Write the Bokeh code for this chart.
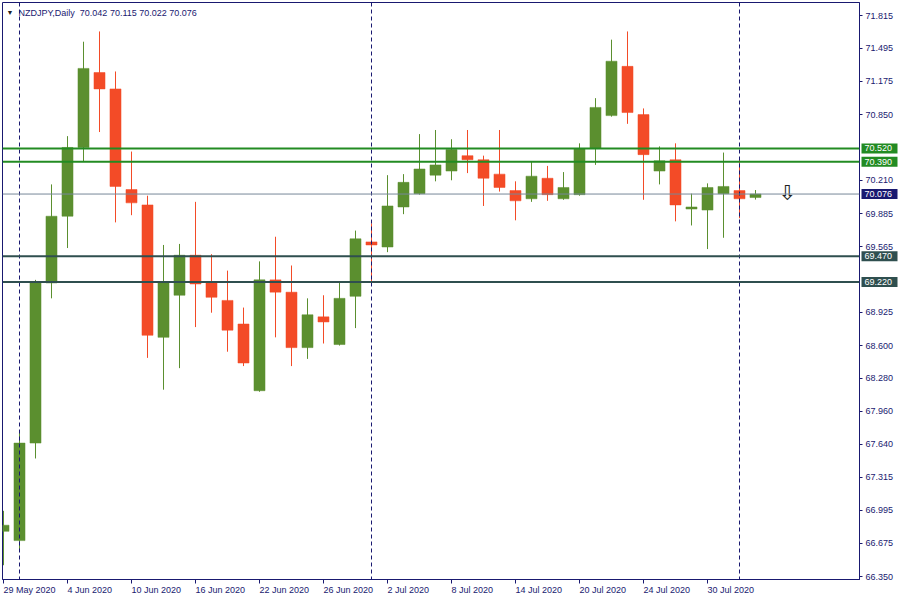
from bokeh.plotting import figure
from bokeh.models import (Range1d, FixedTicker, Span, Label, ColumnDataSource,
                          NumeralTickFormatter)
from bokeh.core.properties import value
from bokeh.embed import file_html
from bokeh.resources import INLINE

# ---------------- data ----------------
dates = ["29 May 2020", "1 Jun 2020", "2 Jun 2020", "3 Jun 2020", "4 Jun 2020", "5 Jun 2020",
         "8 Jun 2020", "9 Jun 2020", "10 Jun 2020", "11 Jun 2020", "12 Jun 2020",
         "15 Jun 2020", "16 Jun 2020", "17 Jun 2020", "18 Jun 2020", "19 Jun 2020",
         "22 Jun 2020", "23 Jun 2020", "24 Jun 2020", "25 Jun 2020", "26 Jun 2020",
         "29 Jun 2020", "30 Jun 2020", "1 Jul 2020", "2 Jul 2020", "3 Jul 2020",
         "6 Jul 2020", "7 Jul 2020", "8 Jul 2020", "9 Jul 2020", "10 Jul 2020",
         "13 Jul 2020", "14 Jul 2020", "15 Jul 2020", "16 Jul 2020", "17 Jul 2020",
         "20 Jul 2020", "21 Jul 2020", "22 Jul 2020", "23 Jul 2020", "24 Jul 2020",
         "27 Jul 2020", "28 Jul 2020", "29 Jul 2020", "30 Jul 2020", "31 Jul 2020",
         "3 Aug 2020", "4 Aug 2020"]
opens = [66.79, 66.70, 67.65, 69.21, 69.86, 70.53, 71.26, 71.10, 70.12, 69.97, 68.68,
         69.09, 69.48, 69.22, 69.04, 68.81, 68.16, 69.24, 69.12, 68.58, 68.88,
         68.61, 69.08, 69.61, 69.56, 69.95, 70.08, 70.26, 70.30, 70.45, 70.41,
         70.27, 70.11, 70.03, 70.23, 70.03, 70.07, 70.52, 70.84, 71.32, 70.85,
         70.30, 70.41, 69.93, 69.92, 70.08, 70.11, 70.042]
highs = [66.99, 67.77, 69.24, 70.17, 70.64, 71.56, 71.66, 71.27, 70.49, 70.06, 69.58,
         69.59, 70.00, 69.49, 69.33, 68.97, 69.42, 69.66, 69.38, 69.06, 69.09,
         69.22, 69.72, 69.79, 70.26, 70.27, 70.66, 70.70, 70.61, 70.70, 70.45,
         70.70, 70.20, 70.39, 70.35, 70.29, 70.57, 71.01, 71.58, 71.66, 70.91,
         70.54, 70.57, 70.08, 70.18, 70.48, 70.41, 70.115]
lows = [66.46, 66.61, 67.50, 69.06, 69.55, 70.39, 70.68, 69.80, 69.87, 68.48, 68.17,
        68.38, 68.78, 68.92, 68.54, 68.40, 68.15, 68.68, 68.40, 68.47, 68.62,
        68.60, 68.77, 69.22, 69.51, 69.88, 70.07, 70.20, 70.21, 70.28, 69.96,
        70.10, 69.82, 70.00, 70.01, 70.02, 70.06, 70.36, 70.83, 70.76, 70.02,
        70.17, 69.81, 69.77, 69.54, 69.65, 69.84, 70.022]
closes = [66.85, 67.65, 69.21, 69.86, 70.53, 71.30, 71.10, 70.15, 69.99, 68.70, 69.21,
          69.48, 69.20, 69.07, 68.75, 68.43, 69.24, 69.12, 68.58, 68.90, 68.83,
          69.06, 69.64, 69.58, 69.96, 70.19, 70.32, 70.36, 70.51, 70.41, 70.23,
          70.14, 70.01, 70.25, 70.07, 70.14, 70.52, 70.92, 71.37, 70.87, 70.46,
          70.40, 69.97, 69.95, 70.14, 70.15, 70.03, 70.076]

price_ticks = [71.815, 71.495, 71.175, 70.850, 70.210, 69.885, 69.565, 68.925, 68.600,
               68.280, 67.960, 67.640, 67.315, 66.995, 66.675, 66.350]
date_tick_every = 4
month_starts = ["1 Jun 2020", "1 Jul 2020", "3 Aug 2020"]

resistance_levels = [70.520, 70.390]
support_levels = [69.470, 69.220]
bid_price = 70.076
title_text = "NZDJPY,Daily\u00a0\u00a070.042 70.115 70.022 70.076"
arrow_bar = [49]
arrow_price = [70.09]

# ---------------- styles / layout ----------------
GREEN = "#5b8f2f"
RED = "#f34b27"
NAVY = "#191970"
RES_COL = "#228b22"
SUP_COL = "#2f4f4f"
BID_COL = "#778899"
FONT = "Liberation Sans"

W, H = 900, 600
BL, BT, BR, BB = 2, 2, 41, 21          # borders around the plot frame (px)
X0, X1 = -0.0625, 53.5                 # visible bar range
Y0, Y1 = 66.321, 71.942                # visible price range
FW, FH = W - BL - BR, H - BT - BB
PPX = FW / (X1 - X0)                   # px per bar
PPY = FH / (Y1 - Y0)                   # px per price unit

idx = list(range(len(dates)))
colors = [GREEN if c >= o else RED for o, c in zip(opens, closes)]
src = ColumnDataSource(dict(
    x=idx, top=[max(o, c) for o, c in zip(opens, closes)],
    bottom=[min(o, c) for o, c in zip(opens, closes)],
    high=highs, low=lows, color=colors))

p = figure(width=W, height=H, output_backend="svg", toolbar_location=None,
           x_range=Range1d(X0, X1), y_range=Range1d(Y0, Y1),
           x_axis_location="below", y_axis_location="right",
           min_border_left=BL, min_border_top=BT, min_border_right=BR, min_border_bottom=BB,
           background_fill_color="white", border_fill_color="white",
           styles={"position": "absolute", "left": "0px", "top": "0px"})
p.grid.visible = False
p.outline_line_color = NAVY
p.outline_line_width = 1

for ax in (p.xaxis[0], p.yaxis[0]):
    ax.axis_line_color = NAVY
    ax.major_tick_line_color = NAVY
    ax.minor_tick_line_color = None
    ax.major_tick_in = 0
    ax.major_label_text_color = NAVY
    ax.major_label_text_font = FONT
    ax.major_label_text_font_size = "9px"

p.yaxis.ticker = FixedTicker(ticks=price_ticks)
p.yaxis.formatter = NumeralTickFormatter(format="0.000")
p.yaxis.major_tick_out = 3
p.yaxis.major_label_standoff = 3

xt = list(range(0, len(dates), date_tick_every))
p.xaxis.ticker = FixedTicker(ticks=xt)
p.xaxis.major_label_overrides = {i: "" for i in xt}
p.xaxis.major_tick_out = 4
p.xaxis.major_label_standoff = 2

for m in month_starts:
    p.add_layout(Span(location=dates.index(m), dimension="height", line_color=NAVY,
                      line_width=1, line_dash="4 3"))
for lv in resistance_levels:
    p.add_layout(Span(location=lv, dimension="width", line_color=RES_COL, line_width=2))
for lv in support_levels:
    p.add_layout(Span(location=lv, dimension="width", line_color=SUP_COL, line_width=2))
p.add_layout(Span(location=bid_price, dimension="width", line_color=BID_COL, line_width=1))

p.segment(x0="x", x1="x", y0="low", y1="high", line_color="color", line_width=1, source=src)
p.vbar(x="x", width=0.69, top="top", bottom="bottom", fill_color="color",
       line_color="color", line_width=0.5, source=src)

p.text(x=arrow_bar, y=arrow_price, text=["\u21e9"], text_align="center",
       text_baseline="middle", text_font=value("DejaVu Sans"), text_font_size="21px",
       text_color="#222222")

p.add_layout(Label(x=4, y=FH - 10, x_units="screen", y_units="screen", text="\u25bc",
                   text_font=FONT, text_font_size="7px", text_color="#202020",
                   text_baseline="middle"))
p.add_layout(Label(x=16, y=FH - 10, x_units="screen", y_units="screen", text=title_text,
                   text_font=FONT, text_font_size="9px", text_color=NAVY,
                   text_baseline="middle"))

# ---------- transparent overlay covering the whole canvas (same scales) ----------
OX0, OX1 = X0 - BL / PPX, X1 + BR / PPX
OY0, OY1 = Y0 - BB / PPY, Y1 + BT / PPY
o = figure(width=W, height=H, output_backend="svg", toolbar_location=None,
           x_range=Range1d(OX0, OX1), y_range=Range1d(OY0, OY1),
           x_axis_location=None, y_axis_location=None,
           min_border=0, min_border_left=0, min_border_right=0,
           min_border_top=0, min_border_bottom=0,
           background_fill_alpha=0, border_fill_alpha=0,
           styles={"position": "absolute", "left": "0px", "top": "0px"})
o.grid.visible = False
o.outline_line_color = None

def xpx(px):   # canvas pixel -> overlay x
    return OX0 + px / PPX

def ypx(py):   # canvas pixel (from top) -> overlay y
    return OY1 - py / PPY

# date labels, left-aligned at their tick (MetaTrader style)
o.text(x=xt, y=[ypx(589)] * len(xt), text=[dates[i] for i in xt],
       text_font=value(FONT), text_font_size="9px", text_color=NAVY,
       text_align="left", text_baseline="middle")

# price boxes on the right axis
box_levels = [resistance_levels[0], resistance_levels[1], bid_price,
              support_levels[0], support_levels[1]]
box_colors = [RES_COL, RES_COL, NAVY, SUP_COL, SUP_COL]
half = 5 / PPY
o.quad(left=[xpx(861)] * 5, right=[xpx(897)] * 5,
       top=[lv + half for lv in box_levels], bottom=[lv - half for lv in box_levels],
       fill_color=box_colors, line_color=None)
o.text(x=[xpx(864)] * 5, y=box_levels, text=[f"{lv:.3f}" for lv in box_levels],
       text_font=value(FONT), text_font_size="9px", text_color="white",
       text_align="left", text_baseline="middle")

open("out.html", "w").write(file_html([p, o], INLINE))
